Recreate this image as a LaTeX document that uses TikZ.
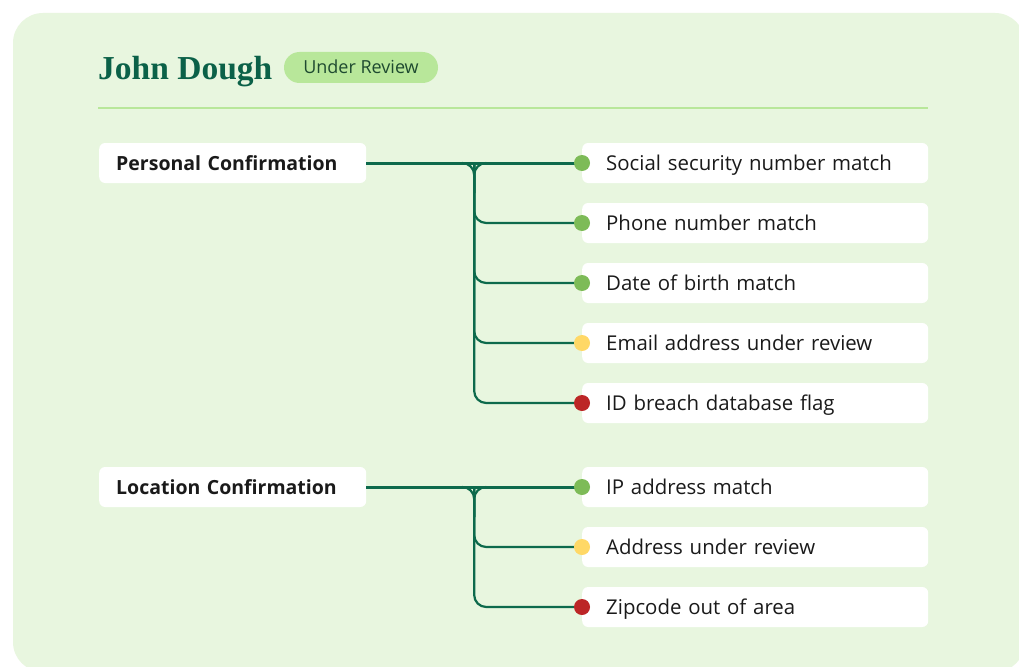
\documentclass[tikz,border=0pt]{standalone}
\usepackage{fontspec}
\setmainfont{Open Sans}
\newfontfamily\titlefont{Liberation Serif}
\usetikzlibrary{calc}
\definecolor{panel}{HTML}{E8F6DF}
\definecolor{badge}{HTML}{B8E79A}
\definecolor{badgetext}{HTML}{1E4A30}
\definecolor{titlec}{HTML}{0B6148}
\definecolor{linec}{HTML}{0D6A4C}
\definecolor{okc}{HTML}{7DBB57}
\definecolor{warnc}{HTML}{FFD866}
\definecolor{badc}{HTML}{BC2626}
\definecolor{txt}{HTML}{1A1A1A}
\tikzset{
  itembox/.style={fill=white, rounded corners=6, minimum height=40, inner ysep=0,
    inner xsep=24, text width=298, align=left, anchor=west, text=txt,
    text height=17.5, text depth=2.5,
    font=\fontsize{20.4}{24}\selectfont},
  groupbox/.style={fill=white, rounded corners=6, minimum height=40, inner ysep=0,
    inner xsep=17, text width=233, align=left, anchor=west, text=txt,
    text height=17.5, text depth=2.5,
    font=\bfseries\fontsize{19.5}{24}\selectfont},
  dotok/.style={circle, fill=okc, minimum size=16, inner sep=0},
  dotwarn/.style={circle, fill=warnc, minimum size=16, inner sep=0},
  dotbad/.style={circle, fill=badc, minimum size=16, inner sep=0},
  mainline/.style={draw=linec, line width=3},
  branchline/.style={draw=linec, line width=2.2, rounded corners=12},
}
\begin{document}
\begin{tikzpicture}[x=1pt, y=-1pt]
\useasboundingbox (0,0) rectangle (1019,666);
\fill[white] (0,0) rectangle (1019,666);
\begin{scope}
\clip (0,0) rectangle (1019,666);
\fill[panel, rounded corners=30] (13,13) rectangle (1025,672);
\end{scope}

% header
\node[anchor=base west, inner sep=0, text=titlec, font=\titlefont\bfseries\fontsize{33.5}{36}\selectfont] (title) at (98,80) {John Dough};
\node[fill=badge, rounded corners=15.5, minimum width=154, minimum height=31, inner sep=0,
  text height=12.5, text depth=0,
  text=badgetext, font=\fontsize{18}{20}\selectfont] (status) at (361,67.5) {Under Review};
\coordinate (hl) at (98,108);
\coordinate (hr) at (928,108);
\draw[badge, line width=2] (hl) -- (hr);

% personal group
\node[groupbox] (p) at (99,163) {Personal Confirmation};
\node[itembox] (p1) at (582,163) {Social security number match};
\node[itembox] (p2) at (582,223) {Phone number match};
\node[itembox] (p3) at (582,283) {Date of birth match};
\node[itembox] (p4) at (582,343) {Email address under review};
\node[itembox] (p5) at (582,403) {ID breach database flag};

% location group
\node[groupbox] (l) at (99,487) {Location Confirmation};
\node[itembox] (l1) at (582,487) {IP address match};
\node[itembox] (l2) at (582,547) {Address under review};
\node[itembox] (l3) at (582,607) {Zipcode out of area};

% connectors personal
\coordinate (pt) at ($(p.east)!0.5!(p1.west)$);
\draw[branchline] ($(pt)+(-12,0)$) -| ($(pt)+(0,30)$);
\draw[branchline] ($(pt)+(12,0)$) -| ($(pt)+(0,30)$);
\draw[branchline] (pt) |- (p2.west);
\draw[branchline] (pt) |- (p3.west);
\draw[branchline] (pt) |- (p4.west);
\draw[branchline] (pt) |- (p5.west);
\draw[mainline] (p.east) -- (p1.west);

% connectors location
\coordinate (lt) at ($(l.east)!0.5!(l1.west)$);
\draw[branchline] ($(lt)+(-12,0)$) -| ($(lt)+(0,30)$);
\draw[branchline] ($(lt)+(12,0)$) -| ($(lt)+(0,30)$);
\draw[branchline] (lt) |- (l2.west);
\draw[branchline] (lt) |- (l3.west);
\draw[mainline] (l.east) -- (l1.west);

% status dots
\node[dotok] (d1) at (p1.west) {};
\node[dotok] (d2) at (p2.west) {};
\node[dotok] (d3) at (p3.west) {};
\node[dotwarn] (d4) at (p4.west) {};
\node[dotbad] (d5) at (p5.west) {};
\node[dotok] (e1) at (l1.west) {};
\node[dotwarn] (e2) at (l2.west) {};
\node[dotbad] (e3) at (l3.west) {};
\end{tikzpicture}
\end{document}
